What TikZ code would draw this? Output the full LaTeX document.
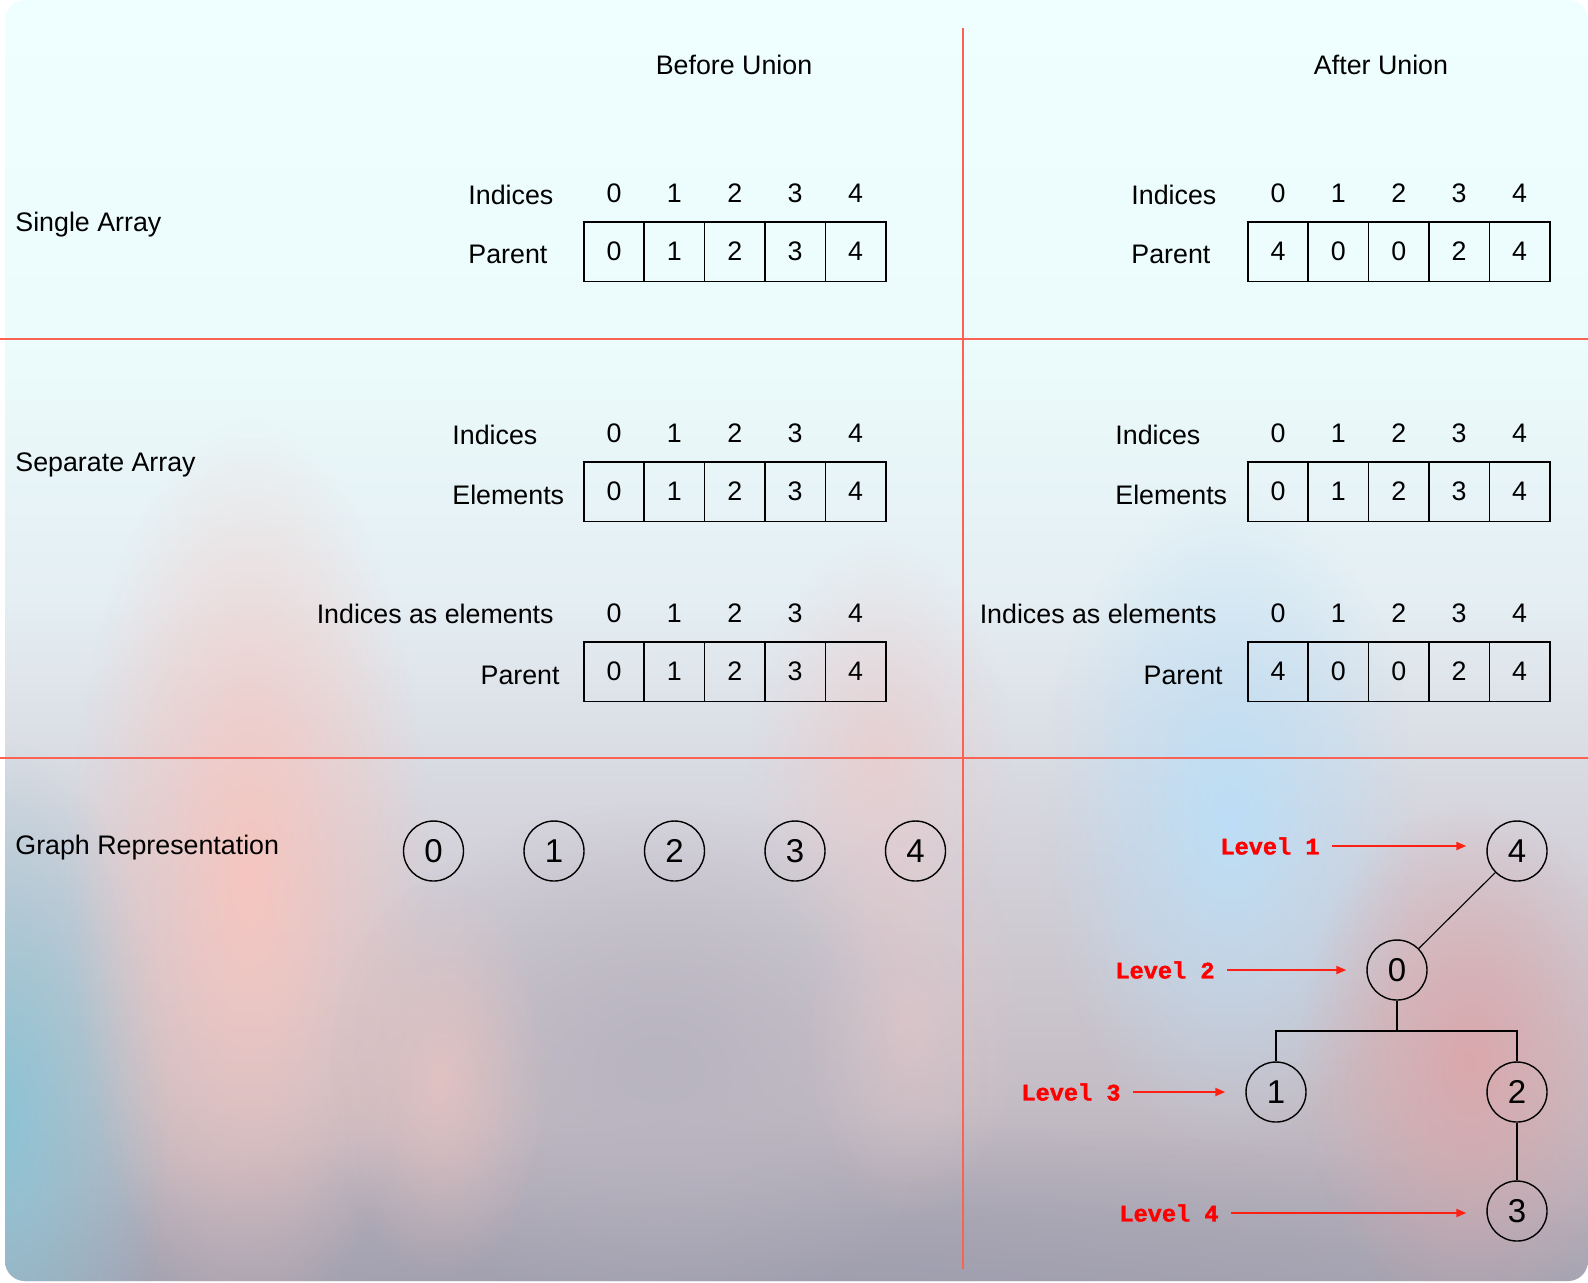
\documentclass[tikz,border=0pt]{standalone}
\usepackage{fontspec}
\setmainfont{Liberation Sans}
\newfontfamily\levelfont{Liberation Mono Bold}[FakeBold=1.6]
\usetikzlibrary{arrows.meta,fadings}

\definecolor{divred}{RGB}{252,98,84}
\definecolor{levelred}{RGB}{255,0,0}
\definecolor{arrowred}{RGB}{255,32,20}
\definecolor{bgA}{RGB}{239,255,255}
\definecolor{bgB}{RGB}{236,252,252}
\definecolor{bgC}{RGB}{228,238,243}
\definecolor{bgD}{RGB}{212,210,218}
\definecolor{bgE}{RGB}{196,188,196}
\definecolor{bgF}{RGB}{170,166,180}
\definecolor{blobpink}{RGB}{246,198,192}
\definecolor{blobteal}{RGB}{140,196,214}
\definecolor{blobgray}{RGB}{184,180,192}
\definecolor{blobrose}{RGB}{236,202,202}
\definecolor{blobblue}{RGB}{188,222,246}
\definecolor{blobmauve}{RGB}{218,168,172}
\definecolor{blobdusk}{RGB}{158,158,174}

\pgfdeclareverticalshading{bgshade}{100bp}{color(0bp)=(bgF); color(25bp)=(bgF);
  color(32bp)=(bgE); color(42bp)=(bgD); color(51.6bp)=(bgC); color(62bp)=(bgB);
  color(75bp)=(bgA); color(100bp)=(bgA)}
\tikzfading[name=fuzzy, inner color=transparent!0, outer color=transparent!100]

\begin{document}
\begin{tikzpicture}[x=0.5pt, y=-0.5pt,
  txt/.style={font=\fontsize{13.4}{16}\selectfont, inner sep=0pt},
  arrcell/.style={draw, line width=0.75pt, minimum width=30.2pt, minimum height=29.8pt,
    inner sep=0pt, anchor=north west, font=\fontsize{13.4}{16}\selectfont},
  idx/.style={txt, anchor=base},
  vertex/.style={circle, draw, line width=0.7pt, minimum size=30pt, inner sep=0pt,
    font=\fontsize{16.5}{19}\selectfont},
  treeedge/.style={line width=0.55pt},
  levellbl/.style={text=levelred, font=\levelfont\fontsize{11.8}{14}\selectfont,
    inner sep=0pt, anchor=west},
  levelarrow/.style={arrowred, line width=1pt, -{Triangle[length=5pt, width=4pt]},
    shorten <=6pt, shorten >=10pt},
  divider/.style={divred, line width=0.8pt},
  blob/.style={path fading=fuzzy}
]
  \useasboundingbox (0,0) rectangle (1588,1282);
  \fill[white] (0,0) rectangle (1588,1282);

  % background
  \begin{scope}
    \clip[rounded corners=10pt] (5,0) rectangle (1588,1281);
    \shade[shading=bgshade] (5,0) rectangle (1588,1281);
    \fill[blobdusk, blob] (800,1320) ellipse [x radius=950, y radius=200];
    \fill[blobteal, blob] (0,1120) ellipse [x radius=170, y radius=380];
    \fill[blobpink, blob] (250,880) ellipse [x radius=180, y radius=460];
    \fill[blobgray, blob] (660,1060) ellipse [x radius=330, y radius=260];
    \fill[blobpink, blob, opacity=0.6] (440,1080) ellipse [x radius=110, y radius=200];
    \fill[blobrose, blob, opacity=0.7] (880,760) ellipse [x radius=130, y radius=220];
    \fill[blobrose, blob, opacity=0.5] (910,1020) ellipse [x radius=110, y radius=200];
    \fill[blobblue, blob] (1230,820) ellipse [x radius=190, y radius=330];
    \fill[blobmauve, blob] (1470,1060) ellipse [x radius=170, y radius=260];
  \end{scope}

  % grid of the table
  \draw[divider] (963,28) -- (963,1269);
  \draw[divider] (0,339) -- (1588,339);
  \draw[divider] (0,758) -- (1588,758);

  \node[txt, anchor=base] (before) at (734,74) {Before Union};
  \node[txt, anchor=base] (after) at (1381,74) {After Union};
  \node[txt, anchor=base west] (single) at (15,231) {Single Array};
  \node[txt, anchor=base west] (separate) at (15,471) {Separate Array};
  \node[txt, anchor=base west] (graph) at (15,854) {Graph Representation};

  % single array
  \node[txt, anchor=base west] (bsI) at (468,204) {Indices};
  \node[txt, anchor=base west] (bsP) at (468,263) {Parent};
  \foreach \v [count=\i from 0] in {0,1,2,3,4} {
    \node[arrcell] (bs\i) at ({583+60.4*\i},221) {\v};
    \node[idx] at ([yshift=9.5pt]bs\i.north) {\i};
  }
  \node[txt, anchor=base west] (asI) at (1131,204) {Indices};
  \node[txt, anchor=base west] (asP) at (1131,263) {Parent};
  \foreach \v [count=\i from 0] in {4,0,0,2,4} {
    \node[arrcell] (as\i) at ({1247+60.4*\i},221) {\v};
    \node[idx] at ([yshift=9.5pt]as\i.north) {\i};
  }

  % separate array
  \node[txt, anchor=base west] (beI) at (452,444) {Indices};
  \node[txt, anchor=base west] (beE) at (452,504) {Elements};
  \foreach \v [count=\i from 0] in {0,1,2,3,4} {
    \node[arrcell] (be\i) at ({583+60.4*\i},461) {\v};
    \node[idx] at ([yshift=9.5pt]be\i.north) {\i};
  }
  \node[txt, anchor=base east] (bpI) at (554,623) {Indices as elements};
  \node[txt, anchor=base east] (bpP) at (560,684) {Parent};
  \foreach \v [count=\i from 0] in {0,1,2,3,4} {
    \node[arrcell] (bp\i) at ({583+60.4*\i},641) {\v};
    \node[idx] at ([yshift=9.5pt]bp\i.north) {\i};
  }
  \node[txt, anchor=base west] (aeI) at (1115,444) {Indices};
  \node[txt, anchor=base west] (aeE) at (1115,504) {Elements};
  \foreach \v [count=\i from 0] in {0,1,2,3,4} {
    \node[arrcell] (ae\i) at ({1247+60.4*\i},461) {\v};
    \node[idx] at ([yshift=9.5pt]ae\i.north) {\i};
  }
  \node[txt, anchor=base east] (apI) at (1217,623) {Indices as elements};
  \node[txt, anchor=base east] (apP) at (1223,684) {Parent};
  \foreach \v [count=\i from 0] in {4,0,0,2,4} {
    \node[arrcell] (ap\i) at ({1247+60.4*\i},641) {\v};
    \node[idx] at ([yshift=9.5pt]ap\i.north) {\i};
  }

  % graphs
  \foreach \i in {0,...,4}
    \node[vertex] (g\i) at ({433.5+120.5*\i},851) {\i};

  \node[vertex] (t4) at (1517,851) {4};
  \node[vertex] (t0) at (1397,970) {0};
  \node[vertex] (t1) at (1276,1092) {1};
  \node[vertex] (t2) at (1517,1092) {2};
  \node[vertex] (t3) at (1517,1211) {3};
  \coordinate (fork) at (1397,1031);
  \draw[treeedge] (t4) -- (t0);
  \draw[treeedge] (t0) -- (fork) -| (t1);
  \draw[treeedge] (fork) -| (t2);
  \draw[treeedge] (t2) -- (t3);

  \node[levellbl] (lv1) at (1220,846) {Level 1};
  \node[levellbl] (lv2) at (1115,970) {Level 2};
  \node[levellbl] (lv3) at (1021,1092) {Level 3};
  \node[levellbl] (lv4) at (1119,1213) {Level 4};
  \draw[levelarrow] (lv1.east) -- (lv1.east -| t4.west);
  \draw[levelarrow] (lv2.east) -- (lv2.east -| t0.west);
  \draw[levelarrow] (lv3.east) -- (lv3.east -| t1.west);
  \draw[levelarrow] (lv4.east) -- (lv4.east -| t3.west);
\end{tikzpicture}
\end{document}
